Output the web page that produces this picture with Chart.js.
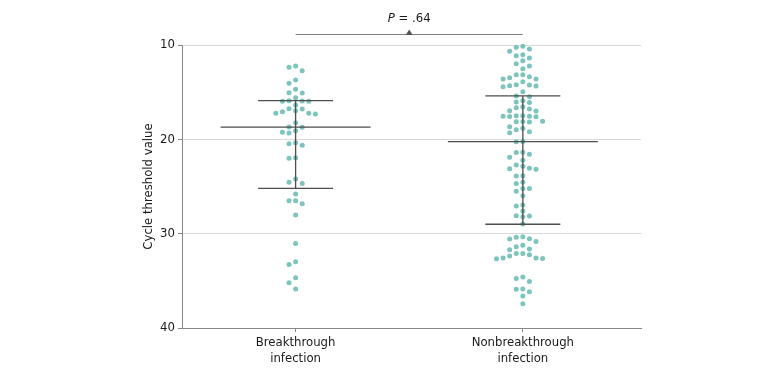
<!DOCTYPE html>
<html>
<head>
<meta charset="utf-8">
<script src="https://cdn.jsdelivr.net/npm/chart.js@4.4.1/dist/chart.umd.min.js"></script>
<style>
  html, body { margin: 0; padding: 0; background: #fff; }
  #wrap { width: 780px; height: 378px; }
</style>
</head>
<body>
<div id="wrap"><canvas id="ctChart" width="780" height="378"></canvas></div>
<script>
// Categories (two-line labels)
const groups = [['Breakthrough', 'infection'], ['Nonbreakthrough', 'infection']];

// Cycle threshold values
const breakthroughCt = [
  12.23, 12.36, 12.73, 13.71, 14.06, 14.70, 15.06, 15.09, 15.59, 15.91,
  15.94, 15.97, 15.97, 16.36, 16.75, 16.79, 16.97, 17.07, 17.24, 17.24,
  17.32, 18.24, 18.70, 18.73, 19.09, 19.26, 19.33, 20.36, 20.47, 20.64,
  21.95, 22.01, 24.21, 24.56, 24.67, 25.80, 26.51, 26.51, 26.83, 28.01,
  31.03, 32.98, 33.26, 34.68, 35.21, 35.87
];
const nonbreakthroughCt = [
  9.54, 10.14, 10.24, 10.42, 10.67, 11.03, 11.13, 11.38, 11.66, 11.98,
  12.23, 12.51, 13.15, 13.15, 13.36, 13.47, 13.61, 13.61, 13.89, 14.21,
  14.24, 14.32, 14.35, 14.42, 14.95, 15.41, 15.48, 15.91, 16.04, 16.10,
  16.54, 16.65, 16.79, 16.97, 17.00, 17.50, 17.50, 17.54, 17.56, 17.58,
  17.60, 18.08, 18.10, 18.13, 18.15, 18.66, 18.83, 18.98, 19.19, 19.30,
  20.22, 20.25, 21.38, 21.40, 21.59, 21.91, 22.23, 22.73, 22.86, 23.07,
  23.12, 23.18, 23.86, 23.88, 24.56, 24.67, 25.20, 25.22, 25.51, 25.98,
  26.97, 27.07, 27.60, 28.10, 28.13, 28.21, 28.98, 30.33, 30.39, 30.54,
  30.57, 30.82, 31.24, 31.39, 31.63, 31.71, 32.09, 32.11, 32.24, 32.38,
  32.57, 32.59, 32.62, 32.66, 34.60, 34.74, 35.06, 35.87, 35.89, 36.16,
  36.62, 37.43
];

// Upper quartile, median, lower quartile
const breakthroughStats = [15.9, 18.7, 25.2];
const nonbreakthroughStats = [15.4, 20.25, 29.0];

const yTicks = [10, 20, 30, 40];
const pValue = '.64';

const FONT = "'Liberation Sans Narrow', 'DejaVu Sans Condensed', 'Liberation Sans', sans-serif";
const DOT = '#7cc4bd';
const INK = '#1a1a1a';

Chart.defaults.font.family = FONT;

// simple column beeswarm: each point takes the nearest free column
function swarm(values, center) {
  const step = 0.029, gap = 0.6;
  const lastInCol = {};
  return values.slice().sort((a, b) => a - b).map(v => {
    let k = 0;
    for (let i = 0; i < 30; i++) {
      k = i === 0 ? 0 : (i % 2 ? -Math.ceil(i / 2) : Math.ceil(i / 2));
      if (lastInCol[k] === undefined || v - lastInCol[k] >= gap) break;
    }
    lastInCol[k] = v;
    return { x: center + k * step, y: v };
  });
}

// IQR bars, median bar and the vertical connector, split by null gaps
function summaryLines(stats, c) {
  const [q3, med, q1] = stats;
  const seg = (x1, x2, y1, y2) => [{ x: x1, y: y1 }, { x: x2, y: y2 }, { x: x2, y: null }];
  return [
    ...seg(c - 0.165, c + 0.165, q3, q3),
    ...seg(c - 0.33, c + 0.33, med, med),
    ...seg(c - 0.165, c + 0.165, q1, q1),
    ...seg(c, c, q3, q1)
  ];
}

// P value bracket above the plot
const pBracket = {
  id: 'pBracket',
  afterDraw(chart) {
    const { ctx, chartArea, scales: { x } } = chart;
    const x1 = x.getPixelForValue(1), x2 = x.getPixelForValue(2);
    const y = Math.round(chartArea.top - 11) + 0.5;
    const mid = (x1 + x2) / 2;
    ctx.save();
    ctx.strokeStyle = '#808080';
    ctx.lineWidth = 1;
    ctx.beginPath();
    ctx.moveTo(x1, y);
    ctx.lineTo(x2, y);
    ctx.stroke();
    ctx.fillStyle = '#555';
    ctx.beginPath();
    ctx.moveTo(mid - 3.5, y + 0.5);
    ctx.lineTo(mid + 3.5, y + 0.5);
    ctx.lineTo(mid, y - 5);
    ctx.closePath();
    ctx.fill();

    const ty = chartArea.top - 26.5;
    ctx.fillStyle = INK;
    ctx.textBaseline = 'middle';
    ctx.font = 'italic 13px ' + FONT;
    const pW = ctx.measureText('P').width;
    ctx.font = '13px ' + FONT;
    const rest = ' = ' + pValue;
    const rW = ctx.measureText(rest).width;
    const start = mid - (pW + rW) / 2;
    ctx.font = 'italic 13px ' + FONT;
    ctx.textAlign = 'left';
    ctx.fillText('P', start, ty);
    ctx.font = '13px ' + FONT;
    ctx.fillText(rest, start + pW, ty);
    ctx.restore();
  }
};

new Chart(document.getElementById('ctChart'), {
  type: 'scatter',
  data: {
    datasets: [
      {
        data: [...summaryLines(breakthroughStats, 1), ...summaryLines(nonbreakthroughStats, 2)],
        showLine: true,
        spanGaps: false,
        borderColor: '#4d4d4d',
        borderWidth: 1.3,
        pointRadius: 0,
        order: 0
      },
      {
        data: [...swarm(breakthroughCt, 1), ...swarm(nonbreakthroughCt, 2)],
        backgroundColor: DOT,
        pointRadius: 2.5,
        pointBorderWidth: 0,
        clip: false,
        order: 1
      }
    ]
  },
  options: {
    responsive: false,
    animation: false,
    devicePixelRatio: 1,
    layout: { padding: { left: 141, right: 139, top: 45, bottom: 0 } },
    plugins: { legend: { display: false }, tooltip: { enabled: false } },
    scales: {
      x: {
        type: 'linear',
        min: 0.5,
        max: 2.52,
        afterBuildTicks: s => { s.ticks = [{ value: 1 }, { value: 2 }]; },
        afterFit: s => { s.height = 50; },
        ticks: {
          callback: v => groups[v - 1],
          color: INK,
          font: { size: 13 },
          padding: 3,
          maxRotation: 0,
          autoSkip: false
        },
        grid: { drawOnChartArea: false, tickLength: 4, color: '#888' },
        border: { color: '#888' }
      },
      y: {
        type: 'linear',
        reverse: true,
        min: 10,
        max: 40,
        afterBuildTicks: s => { s.ticks = yTicks.map(v => ({ value: v })); },
        afterFit: s => { s.width = 41; },
        ticks: { color: INK, font: { size: 13 }, padding: 3 },
        grid: { color: '#d9d9d9', tickColor: '#888', tickLength: 4 },
        border: { color: '#888' },
        title: { display: true, text: 'Cycle threshold value', color: INK, font: { size: 13 }, padding: 0 }
      }
    }
  },
  plugins: [pBracket]
});
</script>
</body>
</html>
